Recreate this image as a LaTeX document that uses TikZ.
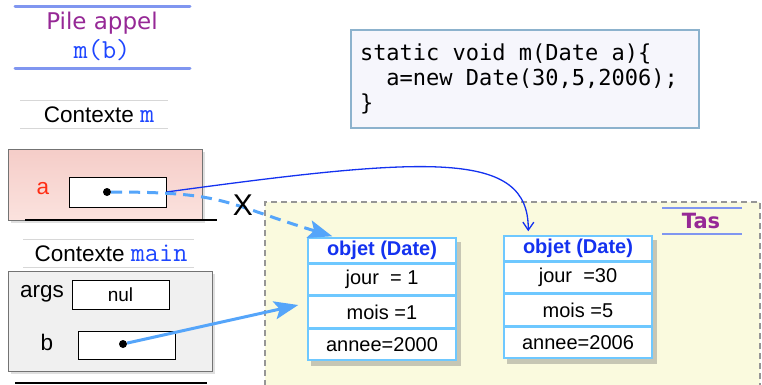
\documentclass[tikz,border=0pt]{standalone}
\usepackage{fontspec}
\setmainfont{Liberation Sans}
\newfontfamily\pilefont{DejaVu Sans}
\newfontfamily\codefont{DejaVu Sans Mono}
\usepackage{tikz}
\usetikzlibrary{arrows.meta,positioning,calc,shadows,fit,backgrounds}
\newcommand\csp{\phantom{x}}

\definecolor{pileblue}{RGB}{128,150,240}
\definecolor{pilepurple}{RGB}{150,40,150}
\definecolor{varblue}{RGB}{30,70,255}
\definecolor{ctxgray}{RGB}{215,215,215}
\definecolor{ctxredtop}{RGB}{245,205,200}
\definecolor{ctxredbot}{RGB}{251,226,222}
\definecolor{varred}{RGB}{255,45,20}
\definecolor{refblue}{RGB}{85,165,250}
\definecolor{newblue}{RGB}{20,50,240}
\definecolor{tasfill}{RGB}{250,250,222}
\definecolor{tasline}{RGB}{150,150,150}
\definecolor{objborder}{RGB}{110,200,255}
\definecolor{codeborder}{RGB}{140,178,205}
\definecolor{codefill}{RGB}{246,246,252}

\begin{document}
\begin{tikzpicture}[x=1pt,y=1pt,
   ctx/.style={draw=black!55,line width=1pt,minimum width=194pt,inner sep=0pt,
      drop shadow={opacity=.25,shadow xshift=3pt,shadow yshift=-3pt}},
   cell/.style={draw=black,line width=1pt,fill=white,minimum width=97pt,minimum height=29pt,inner sep=0pt},
   dot/.style={circle,fill=black,inner sep=0pt,minimum size=8pt},
   lbl/.style={font=\fontsize{22.5}{24}\selectfont},
   tt/.style={font=\ttfamily\fontsize{27.5}{29}\selectfont},
   hdr/.style={draw=objborder,line width=1.5pt,fill=white,minimum width=148pt,minimum height=24.5pt,
      inner sep=0pt,text=newblue,font=\fontsize{20}{22}\selectfont\bfseries},
   fld/.style={hdr,minimum height=31pt,text=black,font=\fontsize{20}{22}\selectfont},
   objshadow/.style={fill=black!60,opacity=.35,inner sep=0pt,xshift=4pt,yshift=-5pt},
   refarrow/.style={draw=refblue,line width=3pt,-{Stealth[length=24pt,width=18pt,inset=5pt]}},
   newarrow/.style={draw=newblue,line width=1.3pt,-{Straight Barb[length=8pt,width=11pt]}},
   ctxline/.style={draw=ctxgray,line width=1pt},
   pileline/.style={draw=pileblue,line width=3pt,line cap=round}]
\useasboundingbox (0,0) rectangle (762,384);

% pile d'appel
\draw[pileline] (15,377) -- (190,377);
\draw[pileline] (15,316) -- (190,316);
\path (102,361) node (pile) {\pilefont\fontsize{23}{25}\selectfont\color{pilepurple}Pile appel}
      (102,334) node (pilem) [tt,text=varblue] {m(b)};

% contexte m
\draw[ctxline] (20,284) -- (168,284);
\draw[ctxline] (20,256) -- (168,256);
\node (ctxmlbl) at (99,269) [lbl] {Contexte {\ttfamily\fontsize{27.5}{29}\selectfont\color{varblue}m}};
\path (105,199.5) node (ctxm) [ctx,minimum height=71pt,top color=ctxredtop,bottom color=ctxredbot] {};
\draw[black,line width=2pt] (25,164) -- (217,164);
\path (43,195) node (va) [lbl,text=varred] {a}
      (117.5,192) node (ia) [cell,minimum height=30pt] {}
      (107,192) node (da) [dot] {};

% contexte main
\draw[ctxline] (23,145) -- (194,145);
\draw[ctxline] (23,117) -- (194,117);
\node (ctxmainlbl) at (111,131) [lbl] {Contexte {\ttfamily\fontsize{27.5}{29}\selectfont\color{varblue}main}};
\path (110,63) node (ctxmain) [ctx,minimum width=204pt,minimum height=100pt,fill=black!6] {};
\path (42,90) node (vargs) [lbl] {args}
      (120.5,89.5) node (iargs) [cell] {\fontsize{19}{21}\selectfont nul}
      (47,42) node (vb) [lbl] {b}
      (126.5,39) node (ib) [cell,minimum height=28pt] {}
      (123,40) node (db) [dot] {};
\draw[black,line width=2pt] (15,1) -- (207,1);

% code
\node (code) at (525,305) [draw=codeborder,line width=2pt,fill=codefill,text width=330pt,
   minimum height=98pt,inner sep=9pt,align=left,
   font={\codefont\fontsize{22}{25}\selectfont}]
   {static\csp void\csp m(Date\csp a)\{\\
\csp\csp a=new\csp Date(30,5,2006);\\
\}};

% tas
\path (382,133.75) node (o1h) [hdr] {objet (Date)};
\node (o1j) [fld,below=0pt of o1h] {jour\ \ = 1};
\node (o1m) [fld,below=0pt of o1j] {mois =1};
\node (o1a) [fld,below=0pt of o1m] {annee=2000};
\path (578,135.75) node (o2h) [hdr] {objet (Date)};
\node (o2j) [fld,below=0pt of o2h] {jour\ \ =30};
\node (o2m) [fld,below=0pt of o2j] {mois =5};
\node (o2a) [fld,below=0pt of o2m] {annee=2006};
\begin{scope}[on background layer]
  \fill[tasfill] (265,-2) rectangle (760,182);
  \draw[tasline,line width=1.2pt,dash pattern=on 6pt off 4pt] (265,-2) -- (265,182) -- (760,182) -- (760,-2);
  \node[objshadow,fit=(o1h)(o1a)] {};
  \node[objshadow,fit=(o2h)(o2a)] {};
\end{scope}
\draw[pileblue,line width=1.5pt] (662,176) -- (742,176);
\draw[pileblue,line width=1.5pt] (662,150) -- (742,150);
\node (tas) at (701,163) {\pilefont\bfseries\fontsize{21}{23}\selectfont\color{pilepurple}Tas};

% references
\coordinate (t1) at ($(o1h.north west)+(25,1)$);
\coordinate (t2) at ($(o1m.west)+(-9,7)$);
\coordinate (t3) at ($(o2h.north west)+(25,4)$);
\draw[newarrow] (ia.east) .. controls (430,228) and (529,234) .. (t3);
\draw[refarrow,dash pattern=on 11pt off 7pt] (da) to[out=0,in=163,looseness=1.3] (t1);
\draw[refarrow] (db) -- (t2);
\node (cross) at (243,179) {\fontsize{30}{32}\selectfont X};
\end{tikzpicture}
\end{document}
